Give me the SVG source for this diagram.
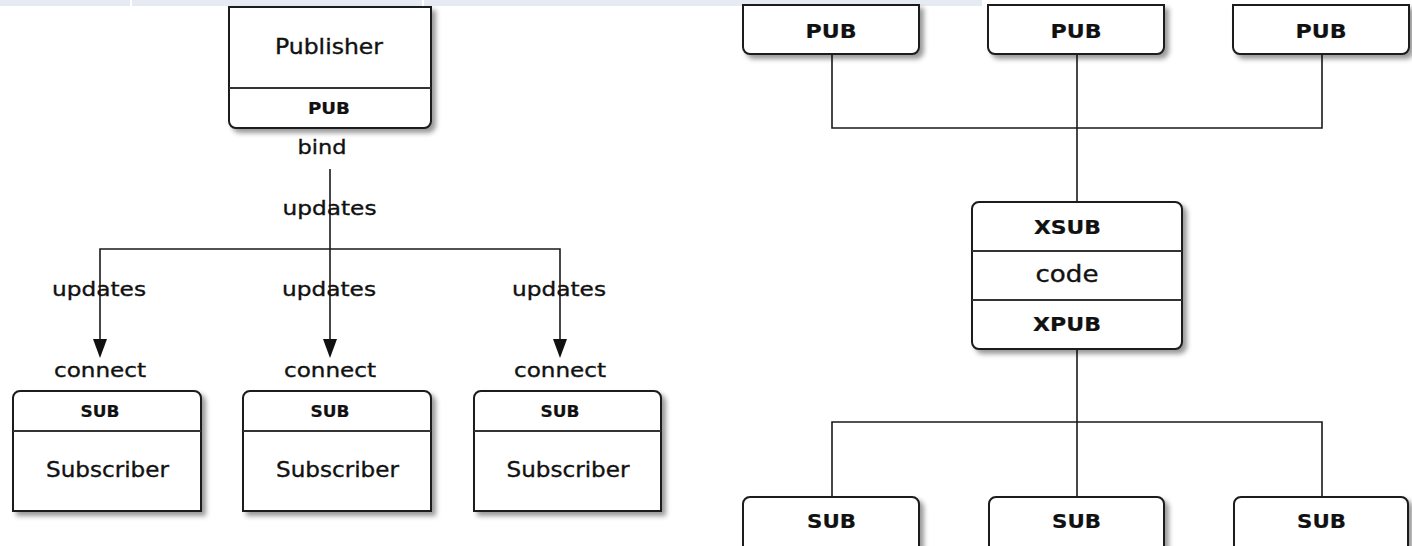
<svg xmlns="http://www.w3.org/2000/svg" width="1412" height="546" viewBox="0 0 1412 546">
  <defs>
    <filter id="shadow" x="-10%" y="-10%" width="130%" height="140%">
      <feGaussianBlur in="SourceAlpha" stdDeviation="2.5" result="blur"/>
      <feOffset in="blur" dx="4" dy="4" result="off"/>
      <feFlood flood-color="#000" flood-opacity="0.4"/>
      <feComposite in2="off" operator="in" result="sh"/>
      <feMerge>
        <feMergeNode in="sh"/>
        <feMergeNode in="SourceGraphic"/>
      </feMerge>
    </filter>
  </defs>
  <style>
    .box { fill: #fff; stroke: #1a1a1a; stroke-width: 2; filter: url(#shadow); }
    .div { stroke: #333; stroke-width: 2; fill: none; }
    .wire { fill: none; stroke: #1a1a1a; stroke-width: 1.6; }
    .head { fill: #111; }
    text { font-family: "DejaVu Sans", Verdana, sans-serif; fill: #111; stroke: #111; stroke-width: 0.35; text-anchor: middle; }
    .lbl { font-size: 20px; }
    .big { font-size: 21px; }
    .tag { font-size: 15.5px; font-weight: bold; stroke-width: 0.2; }
    .tagL { font-size: 19.5px; font-weight: bold; stroke-width: 0.2; }
    .code { font-size: 23px; }
    .strip { fill: #e6ebf3; }
  </style>

  <rect width="1412" height="546" fill="#fff"/>

  <!-- tab strip along the top edge -->
  <g id="strip">
    <rect class="strip" x="0" y="0" width="130" height="6"/>
    <rect class="strip" x="132" y="0" width="290" height="6"/>
    <rect class="strip" x="424" y="0" width="558" height="6"/>
  </g>

  <!-- connectors -->
  <g id="connectors">
    <path class="wire" d="M330,169 V339"/>
    <path class="wire" d="M100,339 V249 H560 V339"/>
    <polygon class="head" points="93,339 107,339 100,358"/>
    <polygon class="head" points="323,339 337,339 330,358"/>
    <polygon class="head" points="553,339 567,339 560,358"/>

    <path class="wire" d="M832,54 V128 H1322 V54"/>
    <path class="wire" d="M1077,54 V202"/>
    <path class="wire" d="M1077,349 V497"/>
    <path class="wire" d="M832,497 V422 H1322 V497"/>
  </g>

  <!-- left: publisher fanning out to subscribers -->
  <g id="publisher">
    <path class="box" d="M229,7 H431 V121 A7,7 0 0 1 424,128 H236 A7,7 0 0 1 229,121 Z"/>
    <line class="div" x1="229" y1="88" x2="431" y2="88"/>
    <text class="big" x="329" y="54" textLength="108" lengthAdjust="spacingAndGlyphs">Publisher</text>
    <text class="tag" x="329" y="114" textLength="42" lengthAdjust="spacingAndGlyphs">PUB</text>
  </g>

  <g id="labels">
    <text class="lbl" x="322" y="154" textLength="49" lengthAdjust="spacingAndGlyphs">bind</text>
    <text class="lbl" x="329.5" y="215" textLength="94" lengthAdjust="spacingAndGlyphs">updates</text>
    <text class="lbl" x="99" y="296" textLength="94" lengthAdjust="spacingAndGlyphs">updates</text>
    <text class="lbl" x="329" y="296" textLength="94" lengthAdjust="spacingAndGlyphs">updates</text>
    <text class="lbl" x="559" y="296" textLength="94" lengthAdjust="spacingAndGlyphs">updates</text>
    <text class="lbl" x="100" y="377" textLength="92" lengthAdjust="spacingAndGlyphs">connect</text>
    <text class="lbl" x="330" y="377" textLength="92" lengthAdjust="spacingAndGlyphs">connect</text>
    <text class="lbl" x="560" y="377" textLength="92" lengthAdjust="spacingAndGlyphs">connect</text>
  </g>

  <g id="subscriber1">
    <path class="box" d="M13,511 V398 A7,7 0 0 1 20,391 H194 A7,7 0 0 1 201,398 V511 Z"/>
    <line class="div" x1="13" y1="431" x2="201" y2="431"/>
    <text class="tag" x="100" y="417" textLength="39" lengthAdjust="spacingAndGlyphs">SUB</text>
    <text class="big" x="107.5" y="477" textLength="123" lengthAdjust="spacingAndGlyphs">Subscriber</text>
  </g>

  <g id="subscriber2">
    <path class="box" d="M243,511 V398 A7,7 0 0 1 250,391 H424 A7,7 0 0 1 431,398 V511 Z"/>
    <line class="div" x1="243" y1="431" x2="431" y2="431"/>
    <text class="tag" x="330" y="417" textLength="39" lengthAdjust="spacingAndGlyphs">SUB</text>
    <text class="big" x="337.5" y="477" textLength="123" lengthAdjust="spacingAndGlyphs">Subscriber</text>
  </g>

  <g id="subscriber3">
    <path class="box" d="M474,511 V398 A7,7 0 0 1 481,391 H654 A7,7 0 0 1 661,398 V511 Z"/>
    <line class="div" x1="474" y1="431" x2="661" y2="431"/>
    <text class="tag" x="560" y="417" textLength="39" lengthAdjust="spacingAndGlyphs">SUB</text>
    <text class="big" x="568" y="477" textLength="123" lengthAdjust="spacingAndGlyphs">Subscriber</text>
  </g>

  <!-- right: publishers through a proxy to subscribers -->
  <g id="pub1">
    <path class="box" d="M743,5 H919 V47 A7,7 0 0 1 912,54 H750 A7,7 0 0 1 743,47 Z"/>
    <text class="tagL" x="831" y="38" textLength="51" lengthAdjust="spacingAndGlyphs">PUB</text>
  </g>
  <g id="pub2">
    <path class="box" d="M988,5 H1164 V47 A7,7 0 0 1 1157,54 H995 A7,7 0 0 1 988,47 Z"/>
    <text class="tagL" x="1076" y="38" textLength="51" lengthAdjust="spacingAndGlyphs">PUB</text>
  </g>
  <g id="pub3">
    <path class="box" d="M1233,5 H1409 V47 A7,7 0 0 1 1402,54 H1240 A7,7 0 0 1 1233,47 Z"/>
    <text class="tagL" x="1321" y="38" textLength="51" lengthAdjust="spacingAndGlyphs">PUB</text>
  </g>

  <g id="proxy">
    <rect class="box" x="972" y="202" width="210" height="147" rx="7" ry="7"/>
    <line class="div" x1="972" y1="251" x2="1182" y2="251"/>
    <line class="div" x1="972" y1="300" x2="1182" y2="300"/>
    <text class="tagL" x="1067.5" y="234" textLength="67" lengthAdjust="spacingAndGlyphs">XSUB</text>
    <text class="code" x="1067" y="282" textLength="63" lengthAdjust="spacingAndGlyphs">code</text>
    <text class="tagL" x="1067" y="331" textLength="68" lengthAdjust="spacingAndGlyphs">XPUB</text>
  </g>

  <g id="sub1">
    <path class="box" d="M743,560 V504 A7,7 0 0 1 750,497 H912 A7,7 0 0 1 919,504 V560 Z"/>
    <text class="tagL" x="831.5" y="528" textLength="49" lengthAdjust="spacingAndGlyphs">SUB</text>
  </g>
  <g id="sub2">
    <path class="box" d="M989,560 V504 A7,7 0 0 1 996,497 H1157 A7,7 0 0 1 1164,504 V560 Z"/>
    <text class="tagL" x="1076.5" y="528" textLength="49" lengthAdjust="spacingAndGlyphs">SUB</text>
  </g>
  <g id="sub3">
    <path class="box" d="M1234,560 V504 A7,7 0 0 1 1241,497 H1401 A7,7 0 0 1 1408,504 V560 Z"/>
    <text class="tagL" x="1321.5" y="528" textLength="49" lengthAdjust="spacingAndGlyphs">SUB</text>
  </g>
</svg>
